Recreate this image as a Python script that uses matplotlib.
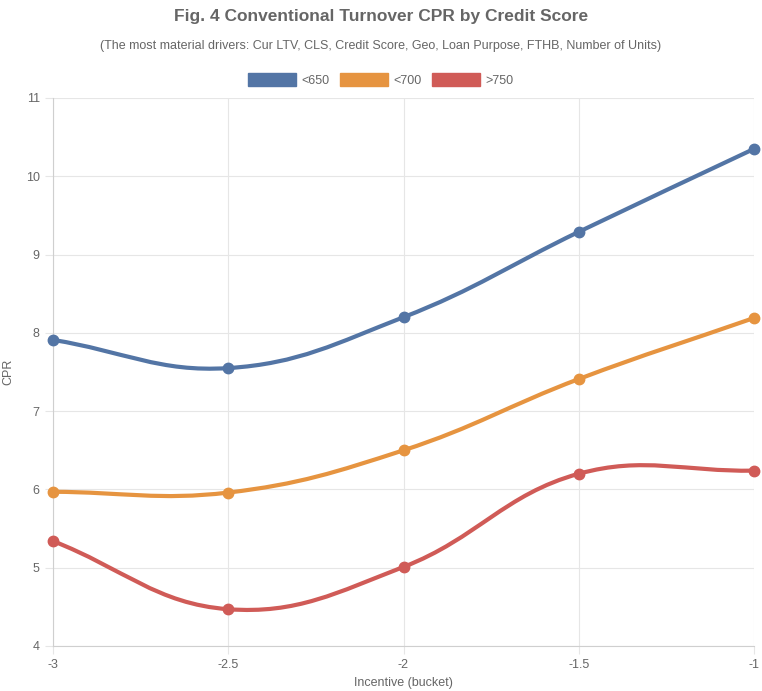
import matplotlib
matplotlib.use("Agg")
import matplotlib.pyplot as plt
import numpy as np
from matplotlib.path import Path
from matplotlib.patches import PathPatch, Patch

plt.rcParams["font.family"] = ["Liberation Sans", "DejaVu Sans"]

incentive = [-3, -2.5, -2, -1.5, -1]
cpr_650 = [7.91, 7.55, 8.20, 9.29, 10.35]
cpr_700 = [5.97, 5.96, 6.50, 7.41, 8.19]
cpr_750 = [5.34, 4.47, 5.01, 6.20, 6.24]
series_labels = ["<650", "<700", ">750"]
colors = ["#5375a5", "#e69440", "#d05b57"]

TEXT = "#666666"
GRID = "#e6e6e6"


def spline_path(xs, ys, sx, sy, tension=0.4):
    # Chart.js style cubic spline, distances measured in pixel space
    px = np.asarray(xs, float) * sx
    py = np.asarray(ys, float) * sy
    n = len(px)
    cps = []
    for i in range(n):
        p0 = (px[max(i - 1, 0)], py[max(i - 1, 0)])
        p1 = (px[i], py[i])
        p2 = (px[min(i + 1, n - 1)], py[min(i + 1, n - 1)])
        d01 = np.hypot(p1[0] - p0[0], p1[1] - p0[1])
        d12 = np.hypot(p2[0] - p1[0], p2[1] - p1[1])
        tot = d01 + d12
        s01 = d01 / tot if tot else 0
        s12 = d12 / tot if tot else 0
        fa, fb = tension * s01, tension * s12
        prev_cp = (p1[0] - fa * (p2[0] - p0[0]), p1[1] - fa * (p2[1] - p0[1]))
        next_cp = (p1[0] + fb * (p2[0] - p0[0]), p1[1] + fb * (p2[1] - p0[1]))
        cps.append((prev_cp, next_cp))
    verts = [(px[0] / sx, py[0] / sy)]
    codes = [Path.MOVETO]
    for i in range(1, n):
        a = cps[i - 1][1]
        b = cps[i][0]
        verts += [(a[0] / sx, a[1] / sy), (b[0] / sx, b[1] / sy), (px[i] / sx, py[i] / sy)]
        codes += [Path.CURVE4] * 3
    return Path(verts, codes)


fig = plt.figure(figsize=(7.62, 6.91), dpi=100)
ax = fig.add_axes([53 / 762, 1 - 646 / 691, (754 - 53) / 762, (646 - 98) / 691])

sx = 701 / 2.0
sy = 548 / 7.0
for vals, color in zip([cpr_650, cpr_700, cpr_750], colors):
    path = spline_path(incentive, vals, sx, sy)
    ax.add_patch(PathPatch(path, facecolor="none", edgecolor=color, lw=3.0,
                           capstyle="round", joinstyle="round", zorder=3))
    ax.plot(incentive, vals, "o", color=color, ms=7.5, zorder=4, clip_on=False)

ax.set_xlim(-3, -1)
ax.set_ylim(4, 11)
ax.set_xticks(incentive)
ax.set_xticklabels(["-3", "-2.5", "-2", "-1.5", "-1"])
ax.set_yticks(range(4, 12))
ax.grid(True, color=GRID, lw=0.8)
ax.set_axisbelow(True)
for side in ["top", "right"]:
    ax.spines[side].set_visible(False)
for side in ["left", "bottom"]:
    ax.spines[side].set_color("#cfcfcf")
ax.tick_params(colors=GRID, labelcolor=TEXT, labelsize=9, length=6, width=0.8)
ax.set_ylabel("CPR", color=TEXT, fontsize=9)
ax.set_xlabel("Incentive (bucket)", color=TEXT, fontsize=9)
ax.yaxis.set_label_coords((14 - 53) / 701, 0.5)
ax.xaxis.set_label_coords(0.5, (646 - 677) / 548)

fig.text(0.5, 1 - 17 / 691, "Fig. 4 Conventional Turnover CPR by Credit Score",
         ha="center", va="center", fontsize=12.5, fontweight="bold", color=TEXT)
fig.text(0.5, 1 - 46 / 691,
         "(The most material drivers: Cur LTV, CLS, Credit Score, Geo, Loan Purpose, FTHB, Number of Units)",
         ha="center", va="center", fontsize=9, color=TEXT)

handles = [Patch(facecolor=c, edgecolor=c) for c in colors]
fig.legend(handles, series_labels, loc="center", bbox_to_anchor=(0.5, 1 - 80 / 691),
           ncol=3, frameon=False, fontsize=9, handlelength=3.8, handleheight=1.2,
           handletextpad=0.5, columnspacing=0.8, labelcolor=TEXT)

fig.savefig("out.png", dpi=100)
